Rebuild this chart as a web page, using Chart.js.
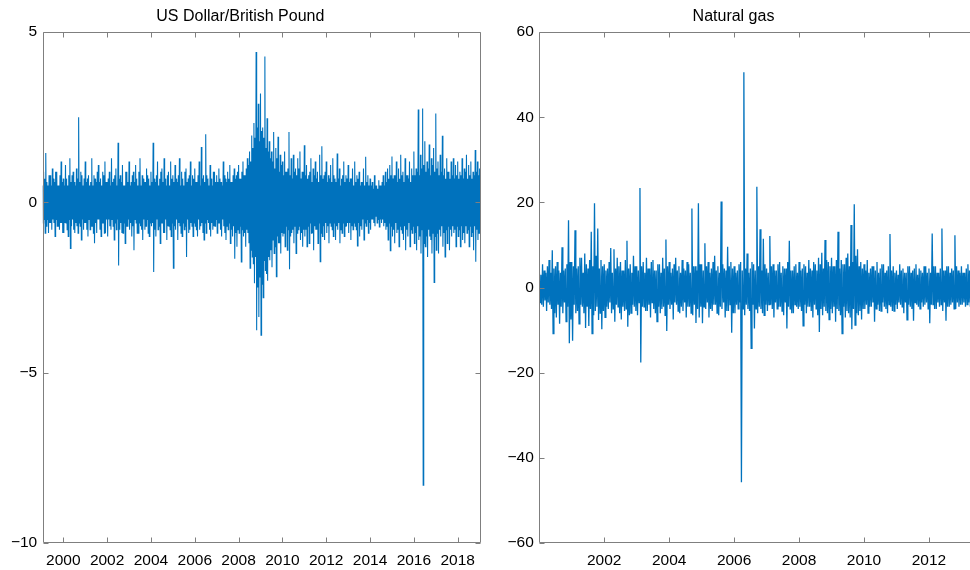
<!DOCTYPE html>
<html>
<head>
<meta charset="utf-8">
<script src="https://cdn.jsdelivr.net/npm/chart.js@4"></script>
<style>
html, body { margin: 0; padding: 0; background: #fff; overflow: hidden; }
#wrap { position: relative; width: 970px; height: 570px; overflow: hidden; }
.panel { position: absolute; top: 0; }
canvas { display: block; }
</style>
</head>
<body>
<div id="wrap">
  <div class="panel" style="left:0"><canvas id="usdChart" width="500" height="570"></canvas></div>
  <div class="panel" style="left:490px"><canvas id="gasChart" width="510" height="570"></canvas></div>
</div>
<script>
const usdStart = 1999.0;
const usdStep = 0.025;
const usdReturns = [
  0.6,-0.8,0.5,-0.6, 0.9,-0.5,0.7,-0.9, 1.45,-0.7,0.6,-0.5, 0.5,-0.9,0.8,-0.6, 0.8,-0.6,0.5,-0.8, 1.0,-0.5,0.7,-0.6, 0.6,-1.0,0.9,-0.5, 0.9,-0.7,0.5,-0.7, 0.5,-0.8,0.8,-0.6, 1.2,-0.6,0.6,-0.9,
  0.7,-0.9,0.5,-0.6, 1.1,-0.6,0.7,-0.8, 0.5,-1.0,0.8,-0.5, 1.3,-1.35,0.6,-0.7, 0.8,-0.5,0.9,-0.8, 0.6,-0.9,0.5,-0.6, 1.0,-0.7,0.7,-0.9, 2.5,-0.6,0.6,-0.7, 0.9,-1.1,0.8,-0.5, 0.5,-0.8,0.7,-0.6,
  1.2,-0.6,0.6,-0.8, 0.7,-1.0,0.8,-0.5, 0.5,-0.8,0.6,-0.7, 1.3,-0.7,0.5,-0.9, 0.8,-1.2,0.7,-0.6, 0.6,-0.9,0.9,-0.5, 1.1,-0.5,0.6,-0.8, 0.7,-1.0,0.5,-0.6, 0.9,-0.6,0.8,-0.9, 1.2,-0.9,0.6,-0.5,
  0.6,-1.0,0.7,-0.5, 0.9,-0.7,0.5,-0.8, 1.3,-0.5,0.6,-0.7, 0.7,-1.1,0.8,-0.6, 1.0,-0.8,0.5,-0.5, 1.75,-1.85,0.7,-0.8, 0.8,-0.6,0.6,-0.9, 1.1,-0.9,0.5,-0.6, 0.5,-1.2,0.9,-0.7, 0.9,-0.7,0.6,-0.5,
  1.2,-0.8,0.5,-0.6, 0.6,-1.0,0.8,-0.7, 0.9,-1.4,0.6,-0.5, 1.1,-0.6,0.7,-0.9, 0.5,-0.9,0.9,-0.6, 1.3,-0.7,0.5,-0.8, 0.8,-1.1,0.7,-0.5, 0.6,-0.8,0.6,-0.7, 1.0,-0.5,0.8,-0.9, 0.7,-1.0,0.5,-0.6,
  0.9,-0.7,0.6,-0.6, 1.75,-2.04,0.7,-0.8, 0.6,-1.0,0.8,-0.5, 1.2,-0.8,0.5,-0.7, 0.7,-1.2,0.9,-0.6, 1.0,-0.6,0.6,-0.9, 1.3,-0.9,0.7,-0.5, 0.5,-1.1,0.8,-0.7, 0.9,-0.7,0.5,-0.8, 1.2,-1.0,0.7,-0.6,
  0.8,-1.93,0.6,-0.7, 1.1,-0.8,0.7,-0.5, 0.6,-1.1,0.8,-0.6, 1.3,-0.7,0.5,-0.9, 0.9,-1.0,0.7,-0.6, 0.5,-0.8,0.9,-0.7, 1.0,-1.6,0.6,-0.5, 0.7,-0.9,0.8,-0.8, 1.2,-0.6,0.5,-0.7, 0.8,-1.0,0.7,-0.6,
  1.0,-0.7,0.6,-0.8, 0.6,-1.0,0.8,-0.5, 1.2,-0.8,0.5,-0.7, 1.63,-0.6,0.7,-0.9, 0.8,-1.1,0.6,-0.6, 2.0,-0.9,0.8,-0.5, 0.7,-0.6,0.5,-0.8, 1.1,-1.0,0.7,-0.6, 0.5,-0.8,0.9,-0.7, 0.9,-0.7,0.6,-0.5,
  0.8,-0.9,0.6,-0.6, 1.0,-0.6,0.7,-0.8, 0.6,-1.0,0.5,-0.5, 1.2,-0.7,0.8,-0.9, 0.7,-1.1,0.6,-0.7, 0.9,-0.8,0.7,-0.6, 1.1,-1.2,0.6,-0.8, 0.6,-1.0,0.8,-0.7, 1.0,-1.65,0.7,-0.9, 0.8,-1.3,0.9,-0.8,
  1.1,-0.9,0.7,-0.7, 0.7,-1.75,0.9,-0.8, 1.2,-1.0,0.8,-0.9, 0.8,-1.3,1.0,-0.8, 1.3,-0.9,1.1,-1.2, 1.5,-1.93,1.2,-1.4, 1.97,-1.6,1.6,-1.8, 2.33,-2.37,1.9,-1.6, 4.42,-3.75,2.2,-2.5, 2.9,-3.36,1.8,-2.2,
  3.2,-3.9,2.1,-2.4, 2.2,-2.8,1.9,-1.7, 4.29,-2.0,1.6,-2.1, 2.47,-2.3,1.5,-1.6, 1.8,-1.7,1.3,-1.4, 1.5,-1.9,1.2,-1.1, 2.07,-1.5,1.0,-1.3, 1.6,-2.18,1.3,-1.0, 1.93,-1.2,0.9,-1.2, 1.4,-1.5,1.1,-0.9,
  1.2,-1.0,0.8,-0.9, 1.5,-1.3,0.9,-0.7, 0.9,-1.4,1.0,-0.8, 2.07,-1.96,0.8,-1.0, 1.3,-0.9,0.7,-0.8, 1.4,-1.2,0.9,-0.7, 1.0,-1.5,0.8,-0.9, 1.3,-0.8,1.0,-0.7, 1.5,-1.1,0.7,-0.9, 0.9,-1.3,0.9,-0.8,
  1.68,-1.0,0.8,-0.8, 1.1,-1.3,0.7,-0.7, 0.8,-1.2,0.9,-0.6, 1.3,-0.9,0.6,-0.9, 1.0,-1.4,0.8,-0.7, 1.2,-0.8,0.7,-0.8, 0.9,-1.2,0.6,-0.6, 1.4,-1.74,0.8,-0.9, 1.65,-1.0,0.7,-0.7, 0.8,-1.1,0.9,-0.6,
  1.2,-0.9,0.6,-0.7, 0.8,-1.2,0.7,-0.6, 1.1,-0.7,0.6,-0.8, 1.3,-1.0,0.8,-0.6, 0.7,-1.1,0.6,-0.7, 1.44,-0.8,0.7,-0.6, 1.0,-1.2,0.5,-0.8, 0.7,-0.9,0.8,-0.6, 1.2,-1.0,0.6,-0.7, 0.8,-0.7,0.7,-0.6,
  1.1,-0.9,0.6,-0.6, 0.7,-1.1,0.7,-0.7, 1.0,-0.8,0.5,-0.6, 1.2,-0.7,0.6,-0.8, 0.8,-1.28,0.7,-0.6, 0.9,-1.0,0.5,-0.7, 0.6,-0.8,0.6,-0.5, 1.0,-1.1,0.5,-0.6, 1.34,-0.7,0.6,-0.5, 0.8,-0.9,0.5,-0.6,
  0.7,-0.8,0.5,-0.5, 0.6,-0.5,0.4,-0.6, 0.8,-0.7,0.5,-0.4, 0.5,-0.6,0.4,-0.5, 0.65,-0.72,0.5,-0.5, 0.5,-0.6,0.6,-0.5, 0.8,-0.7,0.5,-0.6, 0.9,-0.8,0.6,-0.7, 1.0,-1.1,0.7,-0.6, 1.1,-1.42,0.8,-0.7,
  1.35,-1.0,0.7,-0.8, 0.8,-1.2,0.8,-0.6, 1.2,-0.9,0.6,-0.8, 1.0,-1.3,0.7,-0.7, 1.4,-0.8,0.8,-0.9, 0.9,-1.1,0.6,-0.7, 1.3,-1.4,0.8,-0.8, 0.8,-1.0,0.7,-0.6, 1.2,-1.3,0.6,-0.8, 1.0,-0.9,0.8,-0.7,
  1.5,-1.2,0.8,-0.9, 1.0,-1.4,0.9,-0.7, 2.73,-1.1,0.8,-1.0, 1.4,-1.5,1.0,-0.8, 2.76,-8.3,1.1,-1.2, 1.8,-1.3,0.9,-1.0, 1.2,-1.6,1.0,-0.8, 1.7,-1.0,0.8,-1.1, 1.3,-1.5,1.1,-0.9, 1.6,-2.35,0.9,-1.0,
  2.61,-1.4,1.0,-0.9, 1.2,-1.5,0.8,-0.8, 1.4,-1.0,0.9,-0.7, 1.96,-1.3,0.8,-0.9, 1.0,-1.6,0.7,-0.8, 1.3,-1.2,0.9,-0.7, 0.9,-1.4,0.7,-0.8, 1.2,-1.0,0.8,-0.7, 1.3,-0.9,0.7,-0.8, 1.1,-1.3,0.8,-0.7,
  1.2,-1.0,0.7,-0.8, 0.9,-1.3,0.8,-0.7, 1.3,-1.1,0.7,-0.9, 1.0,-1.2,0.9,-0.7, 1.4,-0.9,0.7,-0.8, 1.1,-1.3,0.8,-0.7, 1.2,-1.0,0.7,-0.9, 0.9,-1.4,0.8,-0.7, 1.54,-1.74,0.9,-0.8, 1.2,-1.1,0.8,-0.9,
  1.0
];
const usdXTicks = [2000, 2002, 2004, 2006, 2008, 2010, 2012, 2014, 2016, 2018];
const usdYTicks = [-10, -5, 0, 5];

const gasStart = 2000.0;
const gasStep = 0.025;
const gasReturns = [
  4.5,-3.5,3.0,-4.0, 5.5,-4.5,4.0,-3.0, 3.5,-5.5,5.0,-3.5, 6.5,-4.0,3.5,-5.0, 8.8,-10.8,4.5,-6.0,
  5.0,-7.0,6.0,-4.0, 4.0,-8.5,3.5,-4.5, 9.5,-6.0,4.0,-3.5, 4.5,-8.0,5.5,-4.5, 15.8,-13.1,6.0,-7.5,
  6.0,-12.5,5.0,-4.0, 13.5,-6.0,4.5,-5.5, 5.0,-8.5,7.0,-4.0, 7.0,-4.5,3.5,-6.0, 8.0,-9.5,5.5,-4.5,
  4.5,-9.0,6.5,-5.0, 13.1,-10.8,5.0,-6.5, 19.8,-5.5,7.5,-4.5, 13.9,-7.6,4.5,-6.0, 6.5,-9.8,5.0,-5.5,
  5.5,-7.0,4.0,-4.5, 4.5,-5.0,6.0,-3.5, 9.3,-6.0,3.5,-5.0, 9.0,-8.0,4.5,-4.0, 7.0,-4.5,5.0,-6.0,
  6.0,-7.5,4.0,-4.5, 4.0,-5.5,6.5,-5.0, 11.0,-9.2,4.5,-6.5, 5.5,-6.0,3.5,-4.0, 7.5,-4.5,5.0,-5.5,
  5.0,-6.5,4.0,-3.5, 23.4,-17.6,5.0,-4.5, 6.0,-4.5,3.5,-5.5, 7.0,-5.5,4.5,-4.0, 4.5,-7.0,6.0,-3.5,
  6.5,-5.0,4.0,-6.0, 4.0,-8.0,5.5,-4.5, 5.5,-6.0,3.5,-5.0, 7.0,-4.5,4.5,-6.5, 11.3,-10.2,5.0,-4.0,
  6.0,-5.0,3.5,-4.0, 4.5,-7.5,5.5,-3.5, 7.0,-4.0,4.0,-5.5, 5.0,-6.0,3.5,-4.5, 6.5,-5.5,4.5,-3.5,
  4.0,-7.0,6.0,-4.5, 5.5,-4.5,3.5,-6.0, 18.6,-6.5,5.0,-4.0, 5.0,-8.3,4.0,-5.0, 19.8,-7.0,5.5,-4.5,
  5.5,-8.4,4.0,-4.5, 10.4,-5.0,5.0,-3.5, 6.0,-7.0,3.5,-5.0, 4.5,-5.5,6.0,-4.0, 7.5,-4.0,4.0,-6.0,
  5.0,-6.5,3.5,-4.5, 20.2,-5.0,5.5,-3.5, 4.5,-7.0,4.0,-5.5, 9.6,-5.5,5.0,-4.0, 6.0,-10.6,4.5,-6.0,
  5.0,-6.0,3.5,-4.0, 4.0,-5.0,5.5,-3.5, 6.0,-45.7,4.0,-5.0, 50.6,-6.5,4.5,-4.0, 8.0,-5.0,3.5,-5.5,
  4.5,-14.3,6.0,-4.0, 5.5,-9.6,4.0,-5.0, 23.7,-6.0,5.0,-4.5, 13.7,-5.0,4.0,-6.0, 11.5,-6.5,5.5,-4.0,
  4.5,-5.5,3.5,-4.0, 12.1,-4.0,5.0,-5.0, 5.5,-7.0,4.0,-3.5, 4.0,-5.0,5.5,-4.5, 6.0,-4.5,3.5,-5.5,
  5.0,-6.5,4.5,-3.5, 4.5,-9.6,6.0,-4.5, 11.0,-5.0,4.0,-6.0, 4.0,-6.0,5.0,-4.0, 5.5,-4.5,3.5,-5.0,
  6.0,-4.5,4.0,-5.5, 4.5,-9.0,5.5,-4.0, 5.0,-6.0,3.5,-4.5, 6.5,-4.5,4.5,-5.5, 4.0,-7.0,6.0,-4.0,
  5.5,-5.0,4.0,-6.5, 7.0,-10.4,5.5,-5.0, 8.2,-6.5,4.5,-4.5, 11.2,-5.5,6.5,-6.0, 6.0,-7.5,5.0,-5.0,
  7.0,-6.0,5.0,-4.5, 5.0,-8.0,6.5,-5.0, 13.1,-5.5,4.5,-6.5, 6.5,-10.8,5.5,-4.5, 5.5,-7.0,7.0,-5.5,
  8.0,-6.0,5.0,-7.0, 14.7,-9.8,6.0,-5.0, 19.6,-8.8,7.5,-6.0, 9.0,-6.5,5.0,-5.5, 6.0,-7.5,4.5,-5.0,
  5.5,-5.0,4.0,-4.0, 6.5,-6.0,3.5,-4.5, 4.5,-4.5,5.0,-3.5, 5.0,-8.0,4.0,-5.0, 6.0,-4.0,3.5,-5.5,
  4.5,-5.5,5.5,-3.5, 5.5,-4.5,3.5,-5.0, 4.0,-6.0,5.0,-4.0, 12.6,-4.5,4.0,-5.5, 5.0,-5.5,3.5,-4.0,
  4.0,-5.0,3.0,-3.5, 5.5,-4.0,4.0,-4.5, 4.5,-6.0,3.5,-3.5, 3.5,-7.6,5.0,-4.0, 5.0,-4.5,3.5,-5.0,
  4.0,-7.8,4.5,-3.5, 5.5,-4.0,3.0,-4.5, 4.5,-5.0,4.0,-3.5, 3.5,-4.5,5.0,-4.0, 5.0,-3.5,3.5,-5.0,
  4.5,-8.4,3.5,-4.0, 12.7,-4.0,5.0,-5.0, 5.0,-5.0,3.5,-3.5, 3.5,-4.5,4.5,-4.0, 13.9,-5.5,4.0,-3.5,
  4.0,-7.8,5.0,-4.5, 5.0,-4.5,3.5,-4.0, 4.5,-3.5,4.0,-5.0, 12.3,-5.0,5.0,-3.5, 4.0,-4.5,3.5,-4.0,
  5.0,-4.0,3.5,-3.5, 3.5,-4.5,4.5,-4.0, 5.5,-3.5,4.0,-4.5, 4.5,-4.0,3.5,-3.5, 5.0,-3.5,4.5,-4.0,
  4.0
];
const gasXTicks = [2002, 2004, 2006, 2008, 2010, 2012];
const gasYTicks = [-60, -40, -20, 0, 20, 40, 60];

const FONT = '"Liberation Sans", Arial, Helvetica, sans-serif';
const LINE_COLOR = '#0072BD';
const AXIS_COLOR = '#7f7f7f';

// MATLAB style box with ticks pointing inwards on all four sides
const boxTicks = {
  id: 'boxTicks',
  afterDatasetsDraw(chart) {
    const { ctx, chartArea: a, scales } = chart;
    const L = Math.round(a.left) + 0.5, R = Math.round(a.right) - 0.5;
    const T = Math.round(a.top) + 0.5, B = Math.round(a.bottom) - 0.5;
    ctx.save();
    ctx.strokeStyle = AXIS_COLOR;
    ctx.lineWidth = 1;
    ctx.beginPath();
    ctx.rect(L, T, R - L, B - T);
    scales.x.ticks.forEach(t => {
      const px = Math.round(scales.x.getPixelForValue(t.value)) + 0.5;
      ctx.moveTo(px, B); ctx.lineTo(px, B - 5);
      ctx.moveTo(px, T); ctx.lineTo(px, T + 5);
    });
    scales.y.ticks.forEach(t => {
      const py = Math.round(scales.y.getPixelForValue(t.value)) + 0.5;
      ctx.moveTo(L, py); ctx.lineTo(L + 5, py);
      ctx.moveTo(R, py); ctx.lineTo(R - 5, py);
    });
    ctx.stroke();
    ctx.restore();
  }
};

function drawPanel(id, title, start, step, values, lineWidth, xMin, xMax, xTicks, yMin, yMax, yTicks, yWidth, rightPad) {
  const points = values.map((v, i) => ({ x: start + i * step, y: v }));
  new Chart(document.getElementById(id).getContext('2d'), {
    type: 'line',
    data: {
      datasets: [{
        data: points,
        borderColor: LINE_COLOR,
        borderWidth: lineWidth,
        pointRadius: 0,
        tension: 0,
        fill: false
      }]
    },
    options: {
      responsive: false,
      animation: false,
      events: [],
      layout: { padding: { left: 0, right: rightPad, top: 0, bottom: 0 } },
      plugins: {
        legend: { display: false },
        tooltip: { enabled: false },
        title: {
          display: true,
          text: title,
          color: '#000',
          font: { family: FONT, size: 16, weight: 'normal', lineHeight: 1.2 },
          padding: { top: 7, bottom: 6 }
        }
      },
      scales: {
        x: {
          type: 'linear',
          min: xMin,
          max: xMax,
          afterBuildTicks: s => { s.ticks = xTicks.map(v => ({ value: v })); },
          afterFit: s => { s.height = 27; },
          grid: { display: false, drawTicks: false },
          border: { display: false },
          ticks: {
            autoSkip: false,
            maxRotation: 0,
            padding: 8,
            color: '#000',
            font: { family: FONT, size: 15.5 },
            callback: v => String(v)
          }
        },
        y: {
          min: yMin,
          max: yMax,
          afterBuildTicks: s => { s.ticks = yTicks.map(v => ({ value: v })); },
          afterFit: s => { s.width = yWidth; },
          grid: { display: false, drawTicks: false },
          border: { display: false },
          ticks: {
            padding: 5.5,
            color: '#000',
            font: { family: FONT, size: 15.5 },
            callback: v => v < 0 ? '\u2212' + Math.abs(v) : String(v)
          }
        }
      }
    },
    plugins: [boxTicks]
  });
}

drawPanel('usdChart', 'US Dollar/British Pound', usdStart, usdStep, usdReturns, 1.1,
  1999.06, 2019.05, usdXTicks, -10, 5, usdYTicks, 42.7, 19.3);
drawPanel('gasChart', 'Natural gas', gasStart, gasStep, gasReturns, 1.3,
  2000.0, 2013.48, gasXTicks, -60, 60, gasYTicks, 49.3, 23);
</script>
</body>
</html>
